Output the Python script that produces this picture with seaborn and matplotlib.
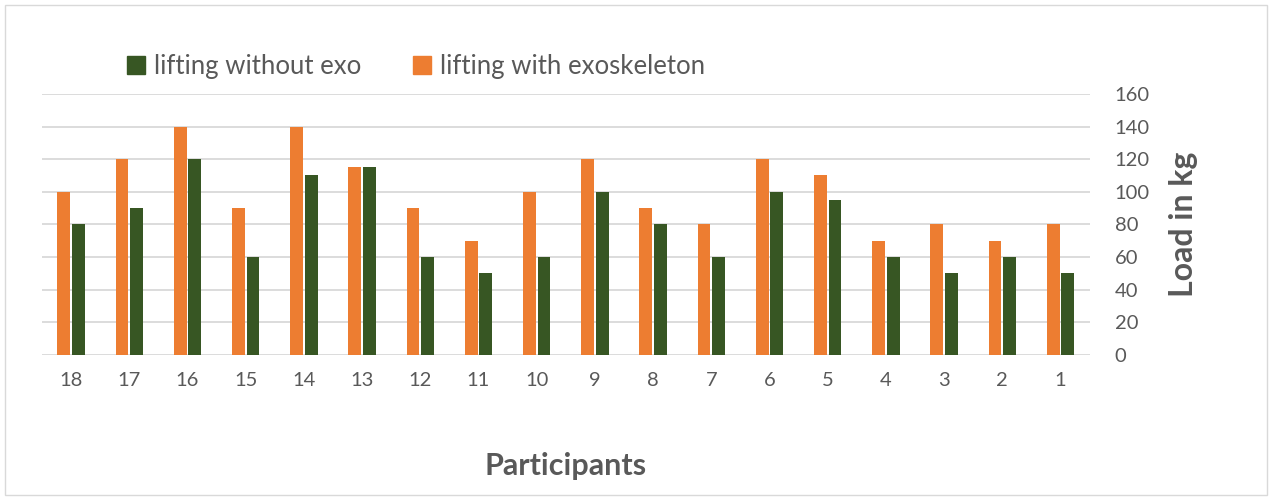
import matplotlib
matplotlib.use("Agg")
import matplotlib.pyplot as plt
import seaborn as sns
import pandas as pd
from matplotlib.patches import Rectangle, Patch

participants = ["18", "17", "16", "15", "14", "13", "12", "11", "10",
                "9", "8", "7", "6", "5", "4", "3", "2", "1"]
with_exo = [100, 120, 140, 90, 140, 115, 90, 70, 100,
            120, 90, 80, 120, 110, 70, 80, 70, 80]
without_exo = [80, 90, 120, 60, 110, 115, 60, 50, 60,
               100, 80, 60, 100, 95, 60, 50, 60, 50]
series_names = ["lifting with exoskeleton", "lifting without exo"]
y_ticks = [0, 20, 40, 60, 80, 100, 120, 140, 160]

orange = "#ED7D31"
green = "#375623"
text_gray = "#595959"
grid_gray = "#D9D9D9"

df = pd.DataFrame({
    "Participant": participants * 2,
    "Load": with_exo + without_exo,
    "Series": [series_names[0]] * len(participants) + [series_names[1]] * len(participants),
})

sns.set_theme(style="white")
plt.rcParams["font.family"] = ["Lato", "DejaVu Sans"]

fig = plt.figure(figsize=(12.7, 4.97), dpi=100)
ax = fig.add_axes([0.033, 0.286, 0.825, 0.525])

sns.barplot(data=df, x="Participant", y="Load", hue="Series",
            order=participants, hue_order=series_names,
            palette=[orange, green], width=0.5, gap=0.12,
            saturation=1, legend=False, linewidth=0, ax=ax)

ax.set_ylim(0, 160)
ax.set_xlim(-0.5, len(participants) - 0.5)
ax.set_yticks(y_ticks)
ax.yaxis.tick_right()
ax.yaxis.set_label_position("right")
ax.grid(axis="y", color=grid_gray, linewidth=1.3)
ax.set_axisbelow(True)
for s in ax.spines.values():
    s.set_visible(False)
ax.tick_params(axis="both", length=0, labelsize=14.5, colors=text_gray)
ax.tick_params(axis="y", pad=18)
ax.tick_params(axis="x", pad=12)

ax.set_xlabel("Participants", fontsize=22, fontweight="bold", color=text_gray, labelpad=46)
ax.set_ylabel("Load in kg", fontsize=23, fontweight="bold", color=text_gray, labelpad=14)

handles = [Patch(color=green), Patch(color=orange)]
fig.legend(handles, [series_names[1], series_names[0]],
           loc="center left", bbox_to_anchor=(0.082, 0.866), ncol=2,
           frameon=False, fontsize=18.5, labelcolor=text_gray,
           handlelength=0.7, handleheight=0.7, handletextpad=0.35,
           columnspacing=2.0)

fig.add_artist(Rectangle((0.004, 0.004), 0.994, 0.986, transform=fig.transFigure,
                         fill=False, edgecolor="#D9D9D9", linewidth=1.0))

fig.savefig("out.png", dpi=100, facecolor="white")
